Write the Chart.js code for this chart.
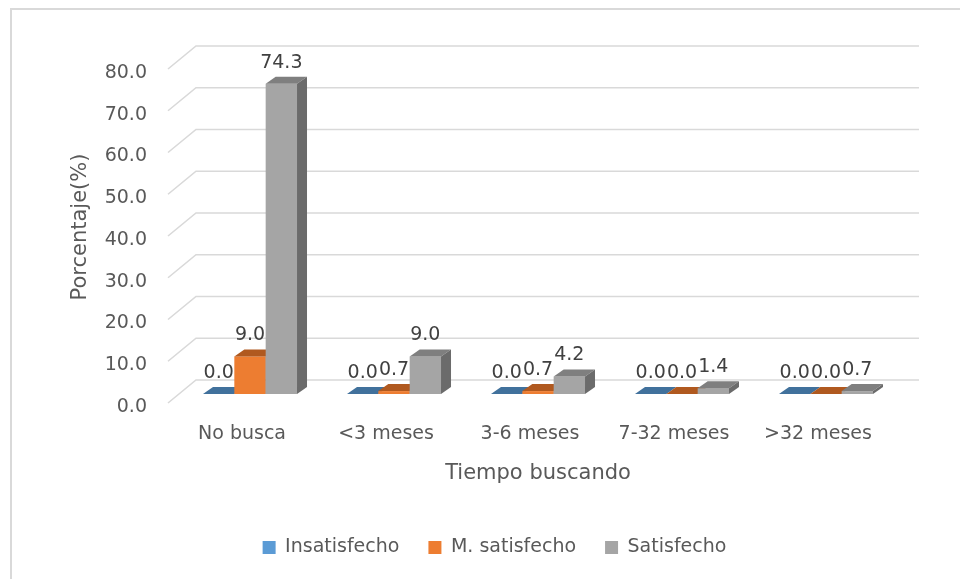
<!DOCTYPE html>
<html>
<head>
<meta charset="utf-8">
<script src="https://cdn.jsdelivr.net/npm/chart.js@4"></script>
<style>
    html, body { margin: 0; padding: 0; background: #fff; overflow: hidden; }
    #wrap { position: relative; width: 960px; height: 579px; }
    #frame { position: absolute; left: 10px; top: 8px; width: 1000px; height: 620px; border: 2px solid #D9D9D9; }
    canvas { position: absolute; left: 0; top: 0; }
</style>
</head>
<body>
<div id="wrap">
    <div id="frame"></div>
    <canvas id="chart" width="960" height="579"></canvas>
</div>
<script>
const categories = ["No busca", "<3 meses", "3-6 meses", "7-32 meses", ">32 meses"];
const insatisfecho = [0.0, 0.0, 0.0, 0.0, 0.0];
const mSatisfecho = [9.0, 0.7, 0.7, 0.0, 0.0];
const satisfecho = [74.3, 9.0, 4.2, 1.4, 0.7];
const yTicks = [0, 10, 20, 30, 40, 50, 60, 70, 80];

// depth of the fake 3D bars
const DX = 10, DY = -7;
const topColors = ["#41719C", "#B0591F", "#7F7F7F"];
const sideColors = ["#355E85", "#9C4E1B", "#6B6B6B"];

function poly(ctx, pts, color) {
    ctx.beginPath();
    ctx.moveTo(pts[0][0], pts[0][1]);
    for (let k = 1; k < pts.length; k++) ctx.lineTo(pts[k][0], pts[k][1]);
    ctx.closePath();
    ctx.fillStyle = color;
    ctx.fill();
}

const bar3d = {
    id: "bar3d",
    beforeDatasetsDraw(chart) {
        // back wall gridlines with the little diagonal on the left
        const ctx = chart.ctx, y = chart.scales.y, area = chart.chartArea;
        ctx.save();
        ctx.strokeStyle = "#D9D9D9";
        ctx.lineWidth = 1.6;
        y.ticks.forEach(t => {
            const py = y.getPixelForValue(t.value);
            ctx.beginPath();
            ctx.moveTo(area.left - 10, py + 9);
            ctx.lineTo(area.left + 18, py - 14);
            ctx.lineTo(area.right + 21, py - 14);
            ctx.stroke();
        });
        ctx.restore();
    },
    beforeDatasetDraw() {
        return false;
    },
    afterDatasetsDraw(chart) {
        const ctx = chart.ctx;
        ctx.save();
        chart.data.datasets.forEach((ds, i) => {
            chart.getDatasetMeta(i).data.forEach(bar => {
                const p = bar.getProps(["x", "y", "base", "width"], true);
                const x0 = p.x - p.width / 2, x1 = p.x + p.width / 2;
                ctx.fillStyle = ds.backgroundColor;
                ctx.fillRect(x0, p.y, p.width, p.base - p.y);
                poly(ctx, [[x0, p.y], [x1, p.y], [x1 + DX, p.y + DY], [x0 + DX, p.y + DY]], topColors[i]);
                poly(ctx, [[x1, p.y], [x1 + DX, p.y + DY], [x1 + DX, p.base + DY], [x1, p.base]], sideColors[i]);
            });
        });
        // value labels
        ctx.font = "19px 'DejaVu Sans'";
        ctx.fillStyle = "#404040";
        ctx.textAlign = "center";
        ctx.textBaseline = "middle";
        chart.data.datasets.forEach((ds, i) => {
            chart.getDatasetMeta(i).data.forEach((bar, j) => {
                const p = bar.getProps(["x", "y"], true);
                ctx.fillText(ds.data[j].toFixed(1), p.x, p.y - 21);
            });
        });
        ctx.restore();
    }
};

Chart.defaults.font.family = "'DejaVu Sans'";
Chart.defaults.color = "#595959";

new Chart(document.getElementById("chart"), {
    type: "bar",
    data: {
        labels: categories,
        datasets: [
            { label: "Insatisfecho", data: insatisfecho, backgroundColor: "#5B9BD5" },
            { label: "M. satisfecho", data: mSatisfecho, backgroundColor: "#ED7D31" },
            { label: "Satisfecho", data: satisfecho, backgroundColor: "#A5A5A5" }
        ]
    },
    options: {
        responsive: false,
        animation: false,
        layout: { padding: { left: 68, right: 39, top: 60, bottom: 12 } },
        datasets: { bar: { categoryPercentage: 0.653, barPercentage: 1 } },
        plugins: {
            legend: {
                position: "bottom",
                labels: { boxWidth: 13, boxHeight: 13, padding: 29, font: { size: 19 }, color: "#595959" }
            },
            tooltip: { enabled: false }
        },
        scales: {
            x: {
                grid: { display: false, drawTicks: false },
                border: { display: false },
                ticks: { font: { size: 19 }, padding: 29, labelOffset: -8, maxRotation: 0 },
                title: { display: true, text: "Tiempo buscando", font: { size: 21 }, padding: { top: 0, bottom: 23 } },
                afterFit: s => { s.height = 115; }
            },
            y: {
                min: 0,
                max: 80,
                grid: { display: false, drawTicks: false },
                border: { display: false },
                ticks: { font: { size: 19 }, padding: 31, labelOffset: 13, callback: v => v.toFixed(1) },
                afterBuildTicks: s => { s.ticks = yTicks.map(v => ({ value: v })); },
                title: { display: true, text: "Porcentaje(%)", font: { size: 21 }, padding: 0 },
                afterFit: s => { s.width = 110; }
            },
            y2: {
                position: "right",
                grid: { display: false },
                border: { display: false },
                ticks: { display: false },
                afterFit: s => { s.width = 23; }
            }
        }
    },
    plugins: [bar3d]
});
</script>
</body>
</html>
